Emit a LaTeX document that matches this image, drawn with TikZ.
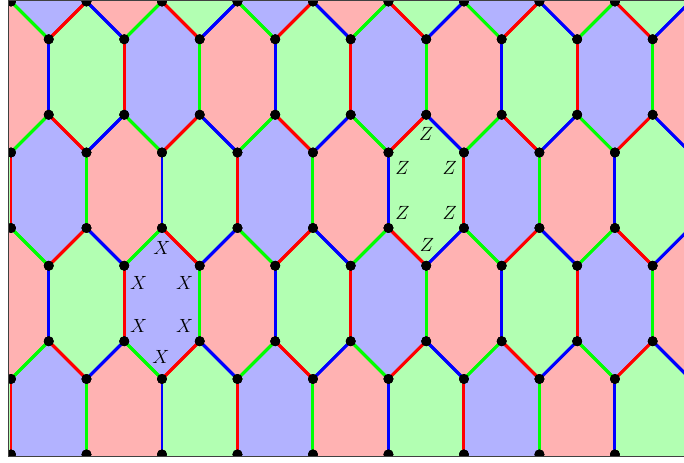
\documentclass[tikz,border=0pt]{standalone}
\colorlet{c0}{red}
\colorlet{c1}{green}
\colorlet{c2}{blue}
\tikzset{
  edgeline/.style={line width=2.2pt},
  vdot/.style={fill=black},
  lbl/.style={inner sep=0pt, font=\Large},
  framel/.style={draw=black!75, line width=0.6pt}
}
\begin{document}
\begin{tikzpicture}[x=1cm,y=-1cm]
\useasboundingbox (-0.291,-0.04) rectangle (17.83,12.2);
\begin{scope}
\clip (-0.06,-0.04) rectangle (17.95,12.05);
% faces
\foreach \k in {-1,...,4} {
  \foreach \m in {-1,...,10} {
    \pgfmathtruncatemacro\ci{2*\m + mod(\k+10,2)}
    \pgfmathtruncatemacro\cy{2+3*\k}
    \pgfmathtruncatemacro\f{mod(round((\ci+3*\k)/2) + 30, 3)}
    \fill[c\f!30] (\ci,\cy-2) -- (\ci+1,\cy-1) -- (\ci+1,\cy+1) -- (\ci,\cy+2) -- (\ci-1,\cy+1) -- (\ci-1,\cy-1) -- cycle;
  }
}
% edges
\foreach \k in {-1,...,4} {
  \foreach \m in {-1,...,10} {
    \pgfmathtruncatemacro\ci{2*\m + mod(\k+10,2)}
    \pgfmathtruncatemacro\cy{2+3*\k}
    \pgfmathtruncatemacro\f{mod(round((\ci+3*\k)/2) + 30, 3)}
    \pgfmathtruncatemacro\fa{mod(\f+1,3)}
    \pgfmathtruncatemacro\fb{mod(\f+2,3)}
    \draw[edgeline, c\fa] (\ci-1,\cy-1) -- (\ci-1,\cy+1);
    \draw[edgeline, c\fb] (\ci-1,\cy-1) -- (\ci,\cy-2);
    \draw[edgeline, c\fa] (\ci,\cy-2) -- (\ci+1,\cy-1);
    \draw[edgeline, c\fb] (\ci+1,\cy-1) -- (\ci+1,\cy+1);
    \draw[edgeline, c\fa] (\ci+1,\cy+1) -- (\ci,\cy+2);
    \draw[edgeline, c\fb] (\ci,\cy+2) -- (\ci-1,\cy+1);
  }
}
% vertices
\foreach \k in {-1,...,4} {
  \foreach \m in {-1,...,10} {
    \pgfmathtruncatemacro\ci{2*\m + mod(\k+10,2)}
    \pgfmathtruncatemacro\cy{2+3*\k}
    \foreach \dx/\dy in {0/-2,1/-1,1/1,0/2,-1/1,-1/-1} {
      \fill[vdot] (\ci+\dx,\cy+\dy) circle (0.13);
    }
  }
}
% labels
\foreach \p/\q in {4/6.53, 3.38/7.45, 4.6/7.45, 3.38/8.6, 4.6/8.6, 3.97/9.43} {
  \node[lbl] at (\p,\q) {$X$};
}
\foreach \p/\q in {11/3.52, 10.37/4.4, 11.62/4.4, 10.37/5.6, 11.62/5.6, 11.02/6.45} {
  \node[lbl] at (\p,\q) {$Z$};
}
\end{scope}
\draw[framel] (17.95,-0.04) -- (-0.06,-0.04) -- (-0.06,12.05) -- (17.95,12.05);
\end{tikzpicture}
\end{document}
